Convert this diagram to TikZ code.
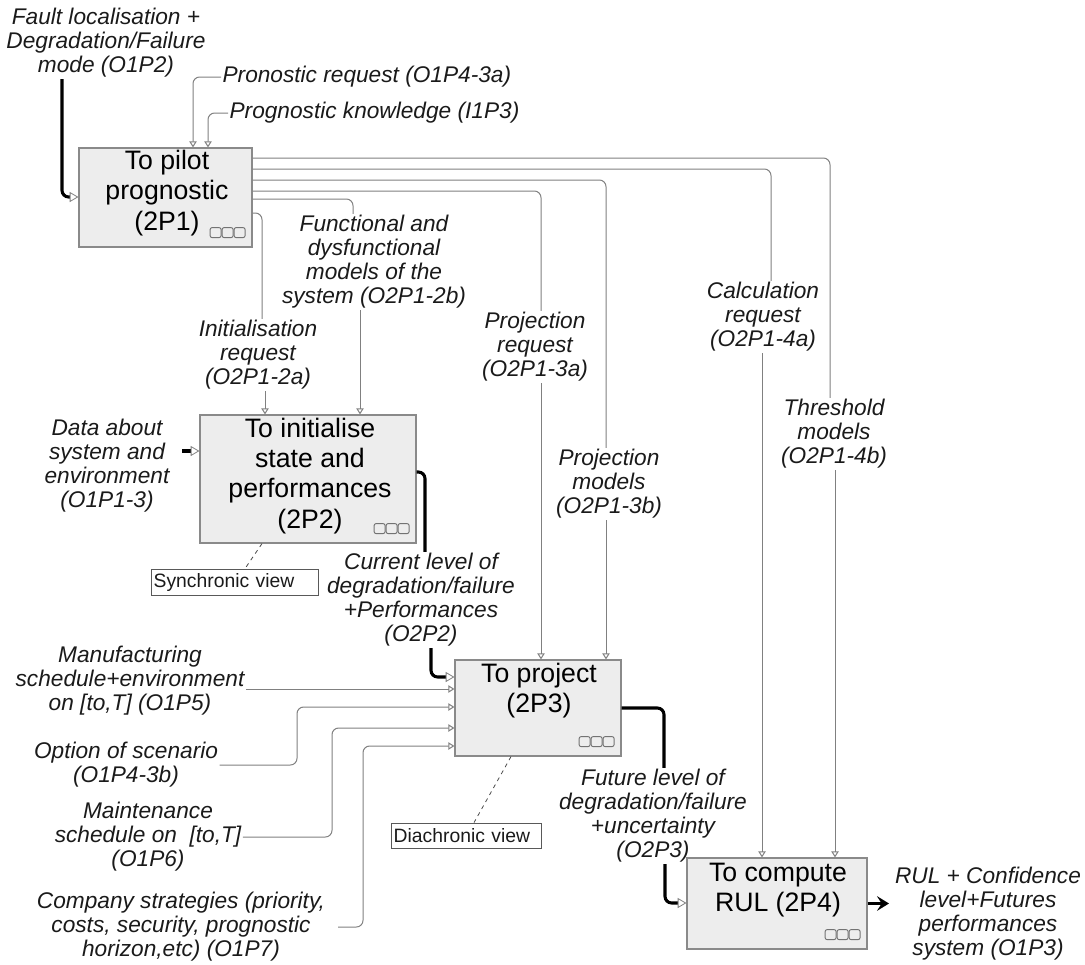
\documentclass[tikz,border=0pt]{standalone}
\usepackage{fontspec}
\setmainfont{Liberation Sans}
\usetikzlibrary{arrows.meta,calc}
\definecolor{boxgray}{HTML}{8A8A8A}
\definecolor{boxfill}{HTML}{EDEDED}
\definecolor{linegray}{HTML}{808080}
\definecolor{txt}{HTML}{1A1A1A}
\tikzset{
  tribox/.pic={
    \foreach \i in {0,1,2}
      \draw[draw=black!55, line width=0.7pt, rounded corners=1.5pt] (-35.5+\i*12,-10) rectangle ++(11,10);
  }
}
\begin{document}
\begin{tikzpicture}[x=0.75pt,y=-0.75pt,
  pbox/.style={draw=boxgray, fill=boxfill, line width=0.9pt, inner sep=0pt},
  btext/.style={align=center, font=\fontsize{20}{22.6}\selectfont, inner sep=0pt, text=black},
  lbl/.style={align=center, font=\itshape\fontsize{17}{18}\selectfont, inner sep=1pt, text=txt},
  vbox/.style={draw=black!65, fill=white, line width=0.6pt, align=left, inner xsep=2pt, inner ysep=0pt, font=\fontsize{14.5}{16}\selectfont, text=txt},
  flow/.style={draw=linegray, line width=0.75pt, rounded corners=5pt},
  arr/.style={-{Triangle[open, length=4.5pt, width=5.5pt]}},
  heavy/.style={draw=black, line width=2.3pt, rounded corners=5pt},
  heavyarr/.style={-{Triangle[open, length=6.5pt, width=7.5pt, line width=0.6pt, color=linegray]}},
  viewlink/.style={draw=black!70, line width=0.6pt, dashed}
]
\useasboundingbox (0,0) rectangle (1085,964);

% boxes
\node[pbox, minimum width=129.75pt, minimum height=74.25pt] (b1) at (165.5,197.5) {};
\node[pbox, minimum width=162pt, minimum height=96pt] (b2) at (308,479) {};
\node[pbox, minimum width=124.5pt, minimum height=72pt] (b3) at (538,708) {};
\node[pbox, minimum width=135pt, minimum height=68.25pt] (b4) at (777,903.5) {};

\node[btext] (b1t) at (167,193) {To pilot\\prognostic\\(2P1)};
\node[btext] (b2t) at (310,476) {To initialise\\state and\\performances\\(2P2)};
\node[btext] (b3t) at (539,691) {To project\\(2P3)};
\node[btext] (b4t) at (778,890) {To compute\\RUL (2P4)};

\pic at ($(b1.south east)+(-7,-10)$) {tribox};
\pic at ($(b2.south east)+(-7,-10)$) {tribox};
\pic at ($(b3.south east)+(-7,-10)$) {tribox};
\pic at ($(b4.south east)+(-7,-10)$) {tribox};

% view boxes
\node[vbox, minimum width=125.25pt, minimum height=19.5pt, text width=121.25pt] (syn) at (234.5,582) {Synchronic view};
\node[vbox, minimum width=112.5pt, minimum height=18.75pt, text width=108.5pt] (dia) at (466,835.5) {Diachronic view};

% labels
\node[lbl] (lFault) at (106,43) {Fault localisation +\\Degradation/Failure\\mode (O1P2)};
\node[lbl, anchor=west] (lPron) at (221,77) {Pronostic request (O1P4-3a)};
\node[lbl, anchor=west] (lProg) at (228,113) {Prognostic knowledge (I1P3)};
\node[lbl] (lFun) at (374,262) {Functional and\\dysfunctional\\models of the\\system (O2P1-2b)};
\node[lbl] (lIni) at (258,355) {Initialisation\\request\\(O2P1-2a)};
\node[lbl] (lPr) at (535,347) {Projection\\request\\(O2P1-3a)};
\node[lbl] (lCalc) at (763,317) {Calculation\\request\\(O2P1-4a)};
\node[lbl] (lThr) at (834,434) {Threshold\\models\\(O2P1-4b)};
\node[lbl] (lPm) at (609,484) {Projection\\models\\(O2P1-3b)};
\node[lbl] (lData) at (107,466) {Data about\\system and\\environment\\(O1P1-3)};
\node[lbl] (lCur) at (421,600) {Current level of\\degradation/failure\\+Performances\\(O2P2)};
\node[lbl] (lMan) at (130,681) {Manufacturing\\schedule+environment\\on [to,T] (O1P5)};
\node[lbl] (lOpt) at (126,765) {Option of scenario\\(O1P4-3b)};
\node[lbl] (lMai) at (148,837) {Maintenance\\schedule on~~[to,T]\\(O1P6)};
\node[lbl] (lCom) at (181,927) {Company strategies (priority,\\costs, security, prognostic\\horizon,etc) (O1P7)};
\node[lbl] (lFut) at (653,816) {Future level of\\degradation/failure\\+uncertainty\\(O2P3)};
\node[lbl] (lRul) at (988,914) {RUL + Confidence\\level+Futures\\performances\\system (O1P3)};

% free ends
\coordinate (cData) at (182,451);
\coordinate (cCom) at (338,927);
\coordinate (cOut) at (889,903.5);

% controls / mechanisms into 2P1
\draw[flow, arr] (lPron.west) -| (b1.north -| 193,0);
\draw[flow, arr] (lProg.west) -| (b1.north -| 208,0);
\draw[heavy, heavyarr] (lFault.south -| 62,0) |- (b1.west |- 0,197);

% outputs of 2P1
\draw[flow] (b1.east |- 0,158) -| (lThr.north -| 830,0);
\draw[flow, arr] (lThr.south -| 835,0) -- (b4.north -| 835,0);
\draw[flow] (b1.east |- 0,169) -| (lCalc.north -| 771,0);
\draw[flow, arr] (lCalc.south -| 762,0) -- (b4.north -| 762,0);
\draw[flow] (b1.east |- 0,180) -| (lPm.north -| 606,0);
\draw[flow, arr] (lPm.south -| 606,0) -- (b3.north -| 606,0);
\draw[flow] (b1.east |- 0,191) -| (lPr.north -| 541,0);
\draw[flow, arr] (lPr.south -| 541,0) -- (b3.north -| 541,0);
\draw[flow] (b1.east |- 0,199) -| (lFun.north -| 353,0);
\draw[flow, arr] (lFun.south -| 360,0) -- (b2.north -| 360,0);
\draw[flow] (b1.east |- 0,213) -| (lIni.north -| 262,0);
\draw[flow, arr] (lIni.south -| 265,0) -- (b2.north -| 265,0);

% 2P2
\draw[heavy, heavyarr] (cData) -- (b2.west |- 0,451);
\draw[heavy] (b2.east |- 0,472) -| (lCur.north -| 425,0);
\draw[heavy, heavyarr] (lCur.south -| 431,0) |- (b3.west |- 0,677);

% inputs to 2P3
\draw[flow, arr] (lMan.east |- 0,689) -- (b3.west |- 0,689);
\draw[flow, arr] (lOpt.east) -- (297,765) -- (297,707) -- (b3.west |- 0,707);
\draw[flow, arr] (lMai.east) -- (332,837) -- (332,728) -- (b3.west |- 0,728);
\draw[flow, arr] (cCom) -- (363,927) -- (363,746) -- (b3.west |- 0,746);

% 2P3 -> 2P4
\draw[heavy] (b3.east |- 0,708) -| (lFut.north -| 664,0);
\draw[heavy, heavyarr] (lFut.south -| 665,0) |- (b4.west |- 0,903);
\draw[heavy, -{Stealth[length=9pt, width=11pt, inset=3.5pt]}] (b4.east) -- (cOut);

% view links
\draw[viewlink] (b2.south -| 262,0) -- (syn.north -| 245,0);
\draw[viewlink] (b3.south -| 511,0) -- (dia.north -| 474,0);
\end{tikzpicture}
\end{document}
